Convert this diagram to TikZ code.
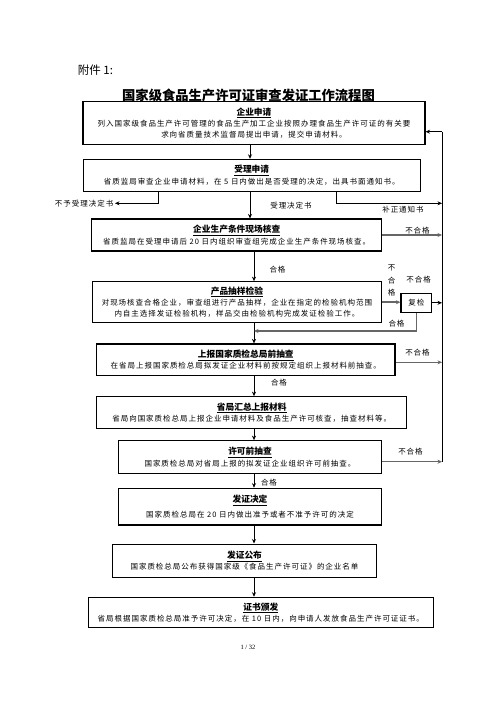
\documentclass[tikz,border=0pt]{standalone}
\usepackage{fontspec}
\setmainfont{Liberation Serif}
\newfontfamily\cjk{Noto Sans CJK SC}
\newfontfamily\cjkls[LetterSpace=13]{Noto Sans CJK SC}
\usetikzlibrary{arrows.meta}
\tikzset{
  box/.style={draw, line width=1.1pt, inner sep=0pt, align=center,
    font=\cjkls\fontsize{7.5}{11.3}\selectfont},
  lbl/.style={inner sep=0pt, font=\cjkls\fontsize{7.5}{9}\selectfont},
  conn/.style={draw, line width=1pt, -{Stealth[length=4.5pt,width=4pt]}},
  gconn/.style={draw=black!60, line width=1.5pt, -{Stealth[length=4.5pt,width=4pt]}},
  plain/.style={draw, line width=1pt},
}
\newcommand{\btitle}[1]{\underline{\cjk\bfseries\fontsize{8.7}{11.3}\selectfont #1}}
\begin{document}
\begin{tikzpicture}[x=1pt,y=-1pt]
\useasboundingbox (0,0) rectangle (496,702);
\node[inner sep=0pt, font=\cjk\fontsize{11.5}{13}\selectfont] (att) at (95.5,70) {附件 1:};
\node[inner sep=0pt, font=\cjk\bfseries\fontsize{13.3}{15}\selectfont] (title) at (248.5,95.5) {国家级食品生产许可证审查发证工作流程图};

\node[box, minimum width=342pt, minimum height=42.6pt] (b1) at (254,123)
  {\btitle{企业申请}\\列入国家级食品生产许可管理的食品生产加工企业按照办理食品生产许可证的有关要\\求向省质量技术监督局提出申请，提交申请材料。};
\node[box, minimum width=336.7pt, minimum height=31.7pt] (b2) at (251.7,175.2)
  {\btitle{受理申请}\\省质监局审查企业申请材料，在 5 日内做出是否受理的决定，出具书面通知书。};
\node[box, minimum width=290pt, minimum height=32pt] (b3) at (236.7,235)
  {\btitle{企业生产条件现场核查}\\省质监局在受理申请后 20 日内组织审查组完成企业生产条件现场核查。};
\node[box, minimum width=288.3pt, minimum height=41pt] (b4) at (236.9,302.2)
  {\btitle{产品抽样检验}\\对现场核查合格企业，审查组进行产品抽样，企业在指定的检验机构范围\\内自主选择发证检验机构，样品交由检验机构完成发证检验工作。};
\node[box, minimum width=30.7pt, minimum height=19pt] (fj) at (416.3,302.8) {复检};
\node[box, minimum width=298.3pt, minimum height=31.7pt] (b5) at (245.8,359.8)
  {\btitle{上报国家质检总局前抽查}\\在省局上报国家质检总局拟发证企业材料前按规定组织上报材料前抽查。};
\node[box, minimum width=310pt, minimum height=31.6pt] (b6) at (251.7,412.5)
  {\btitle{省局汇总上报材料}\\省局向国家质检总局上报企业申请材料及食品生产许可核查，抽查材料等。};
\node[box, minimum width=263.4pt, minimum height=32.6pt] (b7) at (250,457)
  {\btitle{许可前抽查}\\国家质检总局对省局上报的拟发证企业组织许可前抽查。};
\node[box, minimum width=263.4pt, minimum height=36.7pt] (b8) at (250,506.6)
  {\btitle{发证决定}\\[3.5pt]国家质检总局在 20 日内做出准予或者不准予许可的决定};
\node[box, minimum width=264.4pt, minimum height=33.3pt] (b9) at (244.5,560.7)
  {\btitle{发证公布}\\国家质检总局公布获得国家级《食品生产许可证》的企业名单};
\node[box, minimum width=345pt, minimum height=30pt] (b10) at (260.8,612.3)
  {\btitle{证书颁发}\\省局根据国家质检总局准予许可决定，在 10 日内，向申请人发放食品生产许可证证书。};

\node[inner sep=0pt, font=\fontsize{6.5}{8}\selectfont] (pg) at (248,647) {1 / 32};

% labels
\node[lbl, anchor=east] (nb1) at (113.5,203.3) {不予受理决定书};
\node[lbl] (nacc) at (291,205.7) {受理决定书};
\node[lbl] (nbz) at (403,209.5) {补正通知书};
\node[lbl] (nf3) at (417.5,230.5) {不合格};
\node[lbl] (nh3) at (277.5,270) {合格};
\node[lbl, align=center, font=\cjk\fontsize{7.5}{12.5}\selectfont] (nfv) at (391.7,280.5) {不\\合\\格};
\node[lbl] (nf4) at (418.7,279.3) {不合格};
\node[lbl] (nhr) at (396.5,323.3) {合格};
\node[lbl] (nf5) at (417.5,352.7) {不合格};
\node[lbl] (nh5) at (279,382.7) {合格};
\node[lbl] (nf7) at (410.5,451.7) {不合格};
\node[lbl] (nh7) at (269,482.7) {合格};

% coordinates
\coordinate (busT) at (442,131.7);
\coordinate (busB) at (442,461.7);
\coordinate (mx1) at (250,0);
\coordinate (mx2) at (254,0);
\coordinate (lx) at (158.3,203.3);
\coordinate (rx) at (336.7,203.3);
\coordinate (rj) at (254,331);

% connectors
\draw[conn] (b1.south -| mx1) -- (b2.north -| mx1);
\draw[conn] (b2.south -| mx1) -- (b3.north -| mx1);
\draw[conn] (b2.south -| lx) -- (lx) -- ([xshift=1.5pt]nb1.east);
\draw[conn] (b2.south -| rx) -- (rx) -- (rx -| busT);
\draw[gconn] (b3.east) -- (b3.east -| busT);
\draw[conn] (b3.south -| mx2) -- (b4.north -| mx2);
\draw[gconn] (b4.east) -- (b4.east -| fj.west);
\draw[conn] (fj.east) -- (fj.east -| busT);
\draw[conn] (b4.south -| mx2) -- (b5.north -| mx2);
\draw[gconn] (fj.south) |- (rj);
\draw[gconn] ([yshift=-2.5pt]b5.east) -- ([yshift=-2.5pt]b5.east -| busT);
\draw[conn] (b5.south -| mx2) -- (b6.north -| mx2);
\draw[conn] (b6.south -| mx2) -- (b7.north -| mx2);
\draw[gconn] (b7.east |- busB) -- (busB);
\draw[conn] (b7.south -| mx2) -- (b8.north -| mx2);
\draw[conn] (b8.south -| mx2) -- (b9.north -| mx2);
\draw[conn] (b9.south -| mx2) -- (b10.north -| mx2);
\draw[plain] (busB) -- (busT);
\draw[conn] (busT) -- (busT -| b1.east);
\end{tikzpicture}
\end{document}
